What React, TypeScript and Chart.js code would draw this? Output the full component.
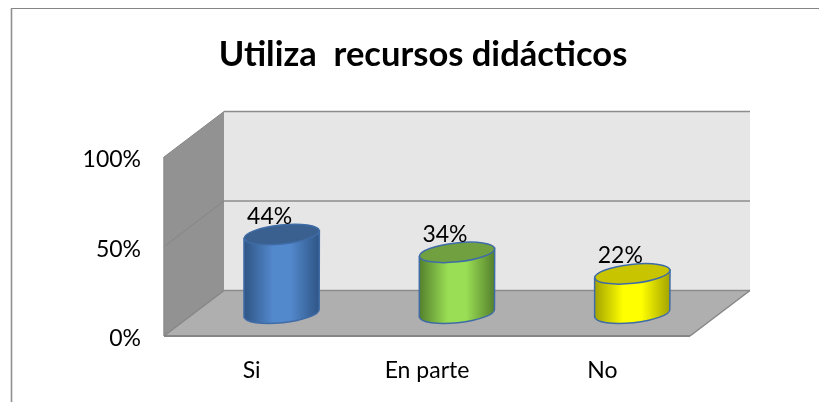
import React, { useEffect, useRef } from "react";
import { Chart, registerables } from "chart.js";

Chart.register(...registerables);

const titleText = "Utiliza  recursos didácticos";
const categories = ["Si", "En parte", "No"];
const values = [0.44, 0.34, 0.22];
const yTicks = [0, 0.5, 1];
const sideColors = [
  ["#2f5585", "#5288cc", "#2f5585"],
  ["#54802c", "#9ade55", "#54802c"],
  ["#a3a300", "#ffff00", "#a3a300"],
];
const topColors = ["#3a6090", "#70a040", "#c8c400"];
const strokeColors = ["#3f6ca6", "#3f6ca6", "#3f6ca6"];

const DX = 60;
const DY = -45.5;
const TILT = -0.105;
const RY = 9.5;
const FONT = 'Lato, "Open Sans", sans-serif';

const scene = {
  id: "scene",
  beforeDatasetsDraw(chart: any) {
    const { ctx, chartArea: a, scales } = chart;
    const y = scales.y;
    const poly = (pts: number[][], fill: string) => {
      ctx.beginPath();
      pts.forEach((p, i) => (i ? ctx.lineTo(p[0], p[1]) : ctx.moveTo(p[0], p[1])));
      ctx.closePath();
      ctx.fillStyle = fill;
      ctx.fill();
    };
    const line = (x1: number, y1: number, x2: number, y2: number, c: string, w = 1.5) => {
      ctx.beginPath();
      ctx.moveTo(x1, y1);
      ctx.lineTo(x2, y2);
      ctx.strokeStyle = c;
      ctx.lineWidth = w;
      ctx.stroke();
    };
    ctx.save();
    line(11.5, 8.5, 819, 8.5, "#868686", 1.2);
    line(11.5, 8, 11.5, 402, "#909090", 1.6);
    const top = y.getPixelForValue(1);
    const bot = y.getPixelForValue(0);
    poly([[a.left + DX, top + DY], [a.right + DX, top + DY], [a.right + DX, bot + DY], [a.left + DX, bot + DY]], "#e6e6e6");
    poly([[a.left, top], [a.left + DX, top + DY], [a.left + DX, bot + DY], [a.left, bot]], "#929292");
    poly([[a.left, bot], [a.left + DX, bot + DY], [a.right + DX, bot + DY], [a.right, bot]], "#afafaf");
    yTicks.forEach((t) => {
      const p = y.getPixelForValue(t);
      line(a.left, p, a.left + DX, p + DY, "#868686", t === 0 ? 1.5 : 1);
      line(a.left + DX, p + DY, a.right + DX, p + DY, "#8c8c8c", 1.5);
    });
    line(a.left, top, a.left, bot, "#8c8c8c", 1.5);
    line(a.left, bot, a.right, bot, "#868686", 2);
    line(a.right, bot, a.right + DX, bot + DY, "#868686", 1.5);
    ctx.restore();
  },
  afterDatasetsDraw(chart: any) {
    const { ctx } = chart;
    const meta = chart.getDatasetMeta(0);
    ctx.save();
    meta.data.forEach((bar: any, i: number) => {
      const cx = bar.x + DX / 2;
      const rx = bar.width / 2;
      const yTop = bar.y + DY / 2;
      const yBase = bar.base + DY / 2;
      const edge = Math.sin(TILT) * rx;
      const grad = ctx.createLinearGradient(cx - rx, 0, cx + rx, 0);
      grad.addColorStop(0, sideColors[i][0]);
      grad.addColorStop(0.38, sideColors[i][1]);
      grad.addColorStop(0.62, sideColors[i][1]);
      grad.addColorStop(1, sideColors[i][2]);
      ctx.beginPath();
      ctx.moveTo(cx - rx, yTop - edge);
      ctx.lineTo(cx - rx, yBase - edge);
      ctx.ellipse(cx, yBase, rx, RY, TILT, Math.PI, 0, true);
      ctx.lineTo(cx + rx, yTop + edge);
      ctx.closePath();
      ctx.fillStyle = grad;
      ctx.fill();
      ctx.strokeStyle = strokeColors[i];
      ctx.lineWidth = 1.5;
      ctx.stroke();
      ctx.beginPath();
      ctx.ellipse(cx, yTop, rx, RY, TILT, 0, Math.PI * 2);
      ctx.fillStyle = topColors[i];
      ctx.fill();
      ctx.stroke();
      ctx.fillStyle = "#000";
      ctx.font = `23px ${FONT}`;
      ctx.textAlign = "center";
      ctx.textBaseline = "middle";
      ctx.fillText(`${Math.round(values[i] * 100)}%`, cx - 12, yTop - 18);
    });
    ctx.restore();
  },
};

export default function App() {
  const ref = useRef<HTMLCanvasElement>(null);
  useEffect(() => {
    document.body.style.margin = "0";
    const chart = new Chart(ref.current!, {
      type: "bar",
      data: {
        labels: categories,
        datasets: [
          {
            data: values,
            backgroundColor: "rgba(0,0,0,0)",
            borderWidth: 0,
            barPercentage: 0.43,
            categoryPercentage: 1,
          },
        ],
      },
      plugins: [scene],
      options: {
        responsive: false,
        animation: false,
        layout: { padding: { left: 27, right: 0, top: 0, bottom: 0 } },
        plugins: {
          legend: { display: false },
          tooltip: { enabled: false },
          title: {
            display: true,
            text: titleText,
            color: "#000",
            font: { family: FONT, size: 34.5, weight: "bold", lineHeight: 1.2 },
            padding: { top: 34.3, bottom: 81.3 },
          },
        },
        scales: {
          x: {
            grid: { display: false },
            border: { display: false },
            ticks: { color: "#000", font: { family: FONT, size: 23 }, padding: 13, maxRotation: 0 },
            afterFit: (s: any) => { s.height = 66; },
          },
          y: {
            min: 0,
            max: 1,
            afterBuildTicks: (s: any) => { s.ticks = yTicks.map((value) => ({ value })); },
            grid: { display: false },
            border: { display: false },
            ticks: {
              color: "#000",
              font: { family: FONT, size: 23 },
              padding: 15,
              labelOffset: 3,
              callback: (v: any) => `${Math.round(Number(v) * 100)}%`,
            },
            afterFit: (s: any) => { s.width = 137; },
          },
          r: {
            type: "linear",
            position: "right",
            display: true,
            grid: { display: false },
            border: { display: false },
            ticks: { display: false },
            afterFit: (s: any) => { s.width = 129; },
          },
        },
      } as any,
    });
    return () => chart.destroy();
  }, []);
  return <canvas ref={ref} width={819} height={402} style={{ display: "block" }} />;
}
